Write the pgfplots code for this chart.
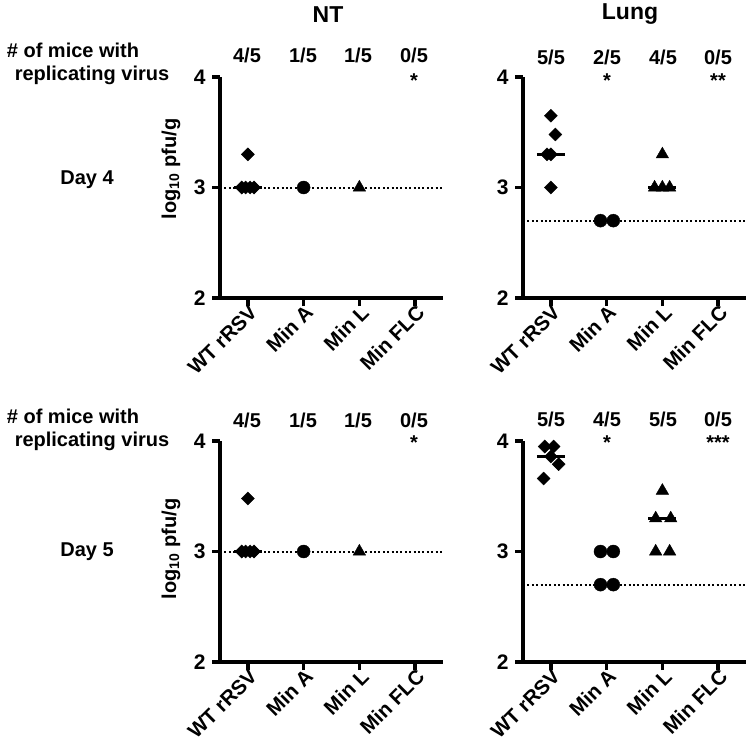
\documentclass[border=0pt]{standalone}
\usepackage{fontspec}
\setmainfont{Liberation Sans}
\usepackage{pgfplots}
\pgfplotsset{compat=1.18}
\newcommand\F{\bfseries\fontsize{20pt}{24pt}\selectfont}
\newcommand\FX{\bfseries\fontsize{20.5pt}{24pt}\selectfont}
\newcommand\FT{\bfseries\fontsize{21pt}{25pt}\selectfont}
\newcommand\FH{\bfseries\fontsize{23pt}{27pt}\selectfont}
\pgfplotsset{
  panel/.style={
    scale only axis, anchor=south west,
    width=223pt, height=221pt,
    xmin=0.5, xmax=4.5, ymin=2, ymax=4,
    axis lines*=left,
    axis line style={line width=3.4pt},
    xtick={1,2,3,4}, xticklabels={WT rRSV,Min A,Min L,Min FLC},
    ytick={2,3,4},
    tick align=outside, major tick length=8pt,
    tick style={line width=3.4pt, black},
    /pgf/number format/assume math mode=true,
    ticklabel style={font=\F},
    yticklabel style={font=\FT, xshift=-3pt},
    xticklabel style={font=\FX, rotate=45, anchor=east, inner sep=2pt, xshift=4pt, yshift=-6pt},
    clip=false,
  },
  dia/.style={only marks, mark=square*, mark size=4.6pt, mark options={rotate=45, fill=black}, black},
  cir/.style={only marks, mark=*, mark size=6.5pt, mark options={fill=black}, black},
  tri/.style={only marks, mark=triangle*, mark size=7.2pt, mark options={fill=black}, black},
  med/.style={line width=3.4pt, black},
  lod/.style={line width=2pt, dash pattern=on 2pt off 2.4pt, black},
}
\begin{document}
\begin{tikzpicture}
\path[use as bounding box] (0pt,0pt) rectangle (750pt,-749pt);
% ---------- NT Day 4
\begin{axis}[panel, at={(220pt,-298pt)}]
\addplot[lod] coordinates {(0.5,3) (4.5,3)};
\addplot[dia] coordinates {(1.0,3.3) (0.89,3) (0.96,3) (1.04,3) (1.11,3)};
\addplot[cir] coordinates {(2,3)};
\addplot[tri] coordinates {(3,3)};
\addplot[med] coordinates {(0.75,3) (1.25,3)};
\end{axis}
% ---------- Lung Day 4
\begin{axis}[panel, at={(523pt,-298pt)}]
\addplot[lod] coordinates {(0.5,2.7) (4.5,2.7)};
\addplot[dia] coordinates {(1.0,3.65) (1.08,3.48) (0.93,3.3) (1.0,3.3) (1.0,3.0)};
\addplot[cir] coordinates {(1.89,2.7) (2.12,2.7)};
\addplot[tri] coordinates {(3.0,3.3) (2.86,3) (3.0,3) (3.13,3)};
\addplot[med] coordinates {(0.75,3.3) (1.25,3.3)};
\addplot[med] coordinates {(2.75,3) (3.25,3)};
\end{axis}
% ---------- NT Day 5
\begin{axis}[panel, at={(220pt,-662pt)}]
\addplot[lod] coordinates {(0.5,3) (4.5,3)};
\addplot[dia] coordinates {(1.0,3.48) (0.89,3) (0.96,3) (1.04,3) (1.11,3)};
\addplot[cir] coordinates {(2,3)};
\addplot[tri] coordinates {(3,3)};
\addplot[med] coordinates {(0.75,3) (1.25,3)};
\end{axis}
% ---------- Lung Day 5
\begin{axis}[panel, at={(523pt,-662pt)}]
\addplot[lod] coordinates {(0.5,2.7) (4.5,2.7)};
\addplot[dia] coordinates {(0.89,3.95) (1.05,3.95) (1.0,3.86) (1.14,3.79) (0.87,3.66)};
\addplot[cir] coordinates {(1.89,3) (2.12,3) (1.89,2.7) (2.12,2.7)};
\addplot[tri] coordinates {(3,3.55) (2.88,3.3) (3.15,3.3) (2.88,3) (3.13,3)};
\addplot[med] coordinates {(0.75,3.86) (1.25,3.86)};
\addplot[med] coordinates {(2.75,3.3) (3.25,3.3)};
\end{axis}
% ---------- texts
\begin{scope}[every node/.style={font=\F, inner sep=0pt}]
\node[font=\FH] at (328pt,-15pt) {NT};
\node[font=\FH] at (630pt,-14pt) {Lung};
% top row
\node[anchor=base] at (73pt,-58pt) {\# of mice with};
\node[anchor=base] at (92pt,-81pt) {replicating virus};
\node at (247pt,-55pt) {4/5};
\node at (303pt,-55pt) {1/5};
\node at (358pt,-55pt) {1/5};
\node at (414pt,-55pt) {0/5};
\node[anchor=base] at (414pt,-88pt) {*};
\node at (551pt,-57pt) {5/5};
\node at (607pt,-57pt) {2/5};
\node at (663pt,-57pt) {4/5};
\node at (718pt,-57pt) {0/5};
\node[anchor=base] at (607pt,-88pt) {*};
\node[anchor=base] at (718pt,-88pt) {**};
\node at (87pt,-180pt) {Day 4};
\node[rotate=90] at (171pt,-169pt) {log\textsubscript{10} pfu/g};
% bottom row
\node[anchor=base] at (73pt,-423pt) {\# of mice with};
\node[anchor=base] at (92pt,-446pt) {replicating virus};
\node at (247pt,-420pt) {4/5};
\node at (303pt,-420pt) {1/5};
\node at (358pt,-420pt) {1/5};
\node at (414pt,-420pt) {0/5};
\node[anchor=base] at (414pt,-449pt) {*};
\node at (551pt,-419pt) {5/5};
\node at (607pt,-419pt) {4/5};
\node at (663pt,-419pt) {5/5};
\node at (718pt,-419pt) {0/5};
\node[anchor=base] at (607pt,-449pt) {*};
\node[anchor=base] at (718pt,-449pt) {***};
\node at (87pt,-552pt) {Day 5};
\node[rotate=90] at (171pt,-549pt) {log\textsubscript{10} pfu/g};
\end{scope}
\end{tikzpicture}
\end{document}
